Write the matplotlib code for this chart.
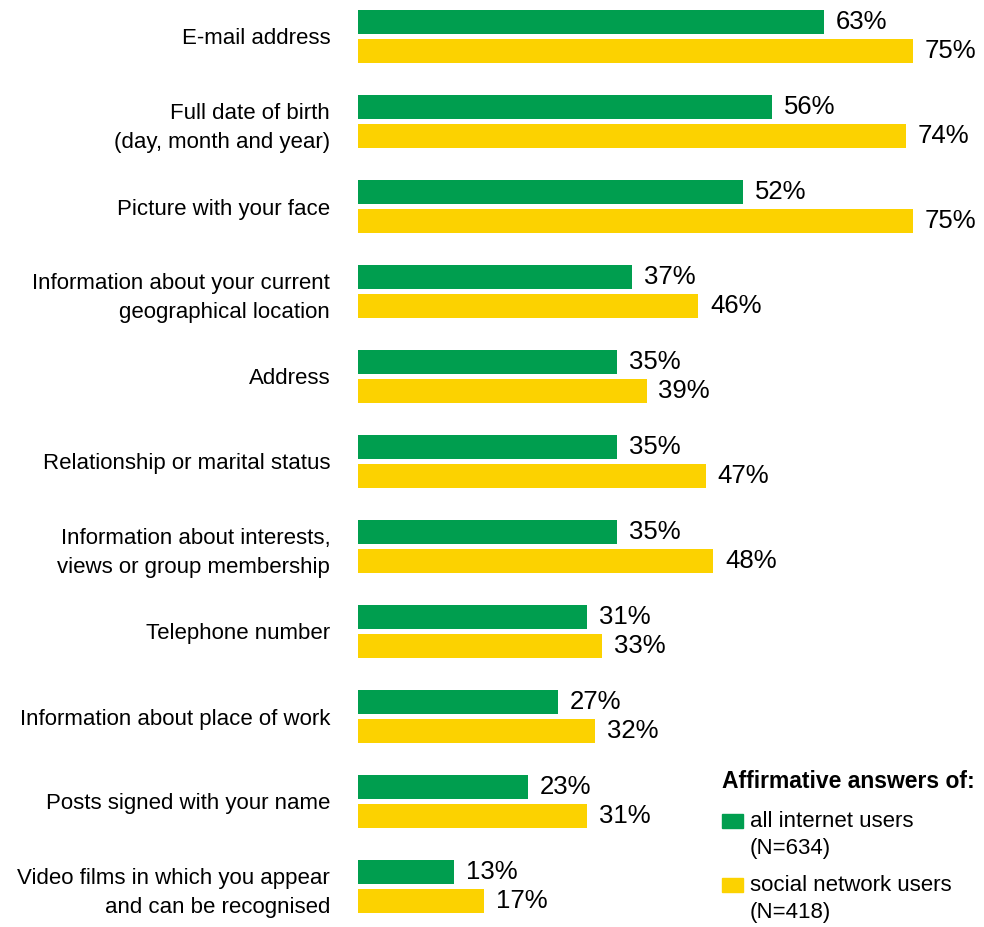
import matplotlib
matplotlib.use("Agg")
import matplotlib.pyplot as plt
from matplotlib.patches import Rectangle

plt.rcParams["font.family"] = ["Liberation Sans", "DejaVu Sans"]

categorias = [
    "E-mail address",
    "Full date of birth\n(day, month and year)",
    "Picture with your face",
    "Information about your current\ngeographical location",
    "Address",
    "Relationship or marital status",
    "Information about interests,\nviews or group membership",
    "Telephone number",
    "Information about place of work",
    "Posts signed with your name",
    "Video films in which you appear\nand can be recognised",
]
todos = [63, 56, 52, 37, 35, 35, 35, 31, 27, 23, 13]
redes = [75, 74, 75, 46, 39, 47, 48, 33, 32, 31, 17]

VERDE = "#009E4F"
AMARELO = "#FCD200"

fig = plt.figure(figsize=(9.84, 9.27), dpi=100)
ax = fig.add_axes([358 / 984, 0, 626 / 984, 1])

pos = list(range(len(categorias)))
desl = 14.5 / 85
alt = 24 / 85
ax.barh([p - desl for p in pos], todos, height=alt, color=VERDE)
ax.barh([p + desl for p in pos], redes, height=alt, color=AMARELO)

for p, a, b in zip(pos, todos, redes):
    ax.text(a + 1.6, p - desl, f"{a}%", va="center", ha="left", fontsize=18.5)
    ax.text(b + 1.6, p + desl, f"{b}%", va="center", ha="left", fontsize=18.5)

ax.set_xlim(0, 626 / 7.4)
ax.set_ylim(10 + 40.5 / 85, -36.5 / 85)
ax.set_yticks(pos)
ax.set_yticklabels(categorias, fontsize=16, linespacing=1.47)
ax.tick_params(axis="y", length=0, pad=20)
ax.set_xticks([])
for s in ax.spines.values():
    s.set_visible(False)

# legenda
W, H = 984, 927
fig.text(722 / W, 1 - 781 / H, "Affirmative answers of:", fontsize=16.5,
         fontweight="bold", va="center", ha="left")
for y0, cor, txt in [(814, VERDE, "all internet users\n(N=634)"),
                     (878, AMARELO, "social network users\n(N=418)")]:
    fig.patches.append(Rectangle((722 / W, 1 - (y0 + 14) / H), 21 / W, 14 / H,
                                 transform=fig.transFigure, color=cor))
    fig.text(750 / W, 1 - (y0 - 3) / H, txt, fontsize=16, va="top",
             ha="left", linespacing=1.35)

fig.savefig("out.png", facecolor="white")
